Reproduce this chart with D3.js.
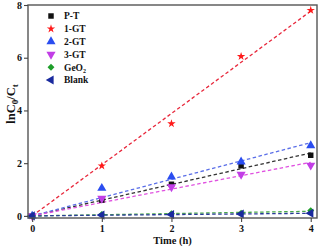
<!DOCTYPE html>
<html>
<head>
<meta charset="utf-8">
<script src="https://cdn.jsdelivr.net/npm/d3@7"></script>
<style>
  body { margin: 0; background: #fff; }
  text { font-family: "Liberation Serif", "Times New Roman", serif; font-weight: bold; }
</style>
</head>
<body>
<script>
const width = 320;
const height = 247;

const times = [0, 1, 2, 3, 4];
const seriesNames = ["P-T", "1-GT", "2-GT", "3-GT", "GeO2", "Blank"];
const valuesPT = [0, 0.6, 1.2, 1.9, 2.3];
const values1GT = [0, 1.9, 3.5, 6.05, 7.8];
const values2GT = [0, 1.05, 1.48, 2.05, 2.67];
const values3GT = [0, 0.66, 1.1, 1.57, 1.92];
const valuesGeO2 = [0, 0.05, 0.08, 0.1, 0.2];
const valuesBlank = [0, 0.03, 0.05, 0.07, 0.1];
const xTicks = [0, 1, 2, 3, 4];
const yTicks = [0, 2, 4, 6, 8];

const markerColors = ["#111111", "#ff1a1a", "#2a4df0", "#c23ee6", "#1e9e2a", "#1a2a9e"];
const lineColors = ["#333333", "#e8283c", "#5a6ee8", "#e052e0", "#4aa84a", "#2a3a98"];
const symbols = [d3.symbolSquare, d3.symbolStar, d3.symbolTriangle, d3.symbolTriangle, d3.symbolSquare, d3.symbolTriangle];
const rotations = [0, 0, 0, 180, 45, -90];
const sizes = [30, 22, 36, 36, 24, 36];

const allValues = [valuesPT, values1GT, values2GT, values3GT, valuesGeO2, valuesBlank];

const margin = { top: 5, right: 3, bottom: 29, left: 28 };

const svg = d3.select("body").append("svg")
  .attr("width", width)
  .attr("height", height);

const x = d3.scaleLinear().domain([-0.06, 4.09]).range([margin.left, width - margin.right]);
const y = d3.scaleLinear().domain([-0.08, 8]).range([height - margin.bottom, margin.top]);

// fitted lines through origin
allValues.forEach((vals, i) => {
  const sxy = d3.sum(times, (t, j) => t * vals[j]);
  const sxx = d3.sum(times, (t) => t * t);
  const k = sxy / sxx;
  svg.append("line")
    .attr("x1", x(0)).attr("y1", y(0))
    .attr("x2", x(4)).attr("y2", y(4 * k))
    .attr("stroke", lineColors[i])
    .attr("stroke-width", 1.3)
    .attr("stroke-dasharray", "3.5,2.5");
});

// markers
allValues.forEach((vals, i) => {
  svg.append("g").selectAll("path")
    .data(vals)
    .enter()
    .append("path")
    .attr("d", d3.symbol().type(symbols[i]).size(sizes[i]))
    .attr("transform", (v, j) => `translate(${x(times[j])},${y(v)}) rotate(${rotations[i]})`)
    .attr("fill", markerColors[i]);
});

// frame
svg.append("rect")
  .attr("x", margin.left).attr("y", margin.top)
  .attr("width", width - margin.left - margin.right)
  .attr("height", height - margin.top - margin.bottom)
  .attr("fill", "none")
  .attr("stroke", "#555")
  .attr("stroke-width", 1.4);

const xAxis = svg.append("g")
  .attr("transform", `translate(0,${height - margin.bottom})`)
  .call(d3.axisBottom(x).tickValues(xTicks).tickSize(4).tickPadding(3).tickFormat(d3.format("d")));
const yAxis = svg.append("g")
  .attr("transform", `translate(${margin.left},0)`)
  .call(d3.axisLeft(y).tickValues(yTicks).tickSize(4).tickPadding(2).tickFormat(d3.format("d")));

[xAxis, yAxis].forEach((a) => {
  a.select(".domain").remove();
  a.selectAll(".tick line").attr("stroke", "#444").attr("stroke-width", 1.1);
  a.selectAll(".tick text").attr("font-size", 10).attr("fill", "#111")
    .style("font-family", "'Liberation Serif', serif").style("font-weight", "bold");
});

// axis labels
svg.append("text")
  .attr("x", (margin.left + width - margin.right) / 2)
  .attr("y", 244)
  .attr("text-anchor", "middle")
  .attr("font-size", 10.5)
  .attr("fill", "#111")
  .text("Time (h)");

const yl = svg.append("text")
  .attr("transform", `translate(15,104) rotate(-90)`)
  .attr("text-anchor", "middle")
  .attr("font-size", 12.5)
  .attr("fill", "#111");
yl.append("tspan").text("lnC");
yl.append("tspan").attr("font-size", 9).attr("dy", 3).text("0");
yl.append("tspan").attr("dy", -3).text("/C");
yl.append("tspan").attr("font-size", 9).attr("dy", 3).text("t");

// legend
const legendY = d3.scaleLinear().domain([0, 5]).range([16, 80]);
seriesNames.forEach((name, i) => {
  const ly = legendY(i);
  svg.append("path")
    .attr("d", d3.symbol().type(symbols[i]).size(sizes[i]))
    .attr("transform", `translate(51,${ly}) rotate(${rotations[i]})`)
    .attr("fill", markerColors[i]);
  const t = svg.append("text")
    .attr("x", 64).attr("y", ly + 3.3)
    .attr("font-size", 9.5)
    .attr("fill", "#111");
  if (name === "GeO2") {
    t.append("tspan").text("GeO");
    t.append("tspan").attr("font-size", 6).attr("dy", 2.5).text("2");
  } else {
    t.text(name);
  }
});
</script>
</body>
</html>
